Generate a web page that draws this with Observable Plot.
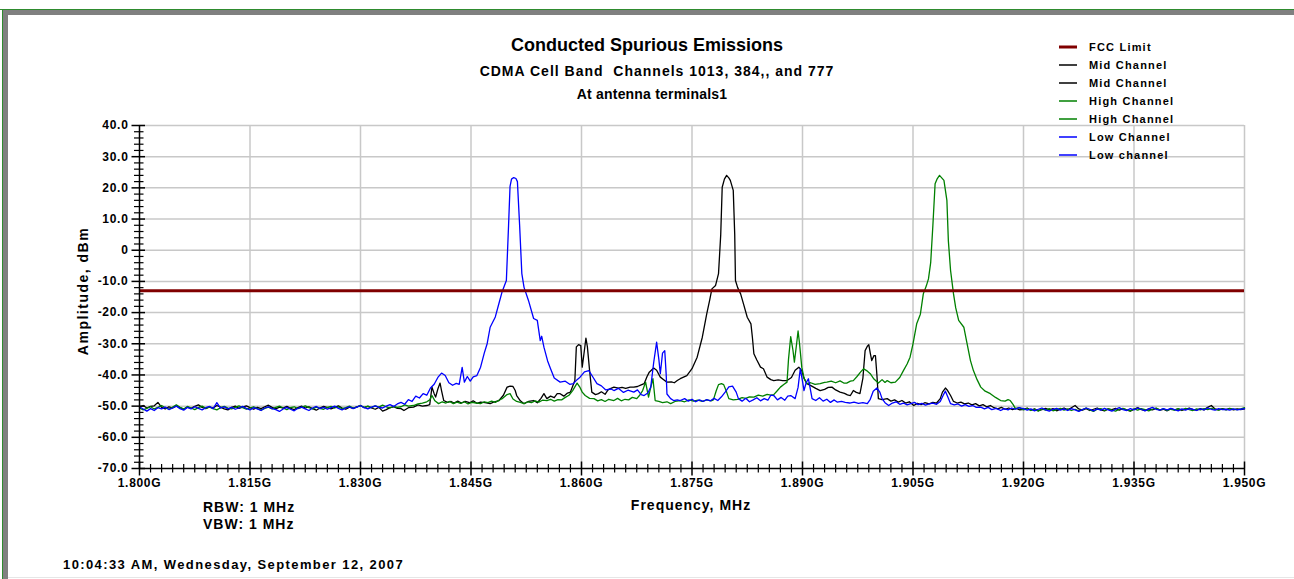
<!DOCTYPE html>
<html>
<head>
<meta charset="utf-8">
<script src="https://cdn.jsdelivr.net/npm/d3@7"></script>
<script src="https://cdn.jsdelivr.net/npm/@observablehq/plot@0.6"></script>
<style>
  html, body { margin: 0; padding: 0; background: #ffffff; }
  #page { position: relative; width: 1294px; height: 579px; overflow: hidden; background: #fff;
          font-family: "Liberation Sans", Arial, Helvetica, sans-serif; font-weight: bold; color: #000; }
  .t { position: absolute; white-space: nowrap; line-height: 1; }
  .c { transform: translate(-50%, -50%); }
  .l { transform: translate(0, -50%); }
  #chart { position: absolute; left: 0; top: 0; }
  .leg { position: absolute; left: 1059px; height: 14px; white-space: nowrap; font-size: 11px; letter-spacing: 1.2px; line-height: 14px; }
  .leg svg { position: absolute; left: 0; top: 0; }
  .leg span { position: absolute; left: 30px; top: 0; }
</style>
</head>
<body>
<div id="page">
  <div style="position:absolute;left:0;top:9px;width:1294px;height:1px;background:#2e8b2e"></div>
  <div style="position:absolute;left:2px;top:9px;width:1px;height:570px;background:#2e8b2e"></div>
  <div style="position:absolute;left:3px;top:10px;width:1291px;height:5px;background:#808080"></div>
  <div style="position:absolute;left:3px;top:10px;width:5px;height:569px;background:#808080"></div>
  <div style="position:absolute;left:8px;top:577px;width:1286px;height:1px;background:#e6e6e6"></div>
  <div id="chart"></div>
  <div id="texts"></div>
</div>
<script>
// ---------- data ----------
const title = "Conducted Spurious Emissions";
const subtitle = "CDMA Cell Band  Channels 1013, 384,, and 777";
const subtitle2 = "At antenna terminals1";
const xAxisTitle = "Frequency, MHz";
const yAxisTitle = "Amplitude, dBm";
const notes = ["RBW: 1 MHz", "VBW: 1 MHz"];
const timestamp = "10:04:33 AM, Wednesday, September 12, 2007";

const legendNames = ["FCC Limit", "Mid Channel", "Mid Channel", "High Channel", "High Channel", "Low Channel", "Low channel"];
const legendColors = ["#800000", "#000000", "#000000", "#008000", "#008000", "#0000ff", "#0000ff"];

const xTicks = [1800, 1815, 1830, 1845, 1860, 1875, 1890, 1905, 1920, 1935, 1950];
const xTickLabels = ["1.800G", "1.815G", "1.830G", "1.845G", "1.860G", "1.875G", "1.890G", "1.905G", "1.920G", "1.935G", "1.950G"];
const yTicks = [40, 30, 20, 10, 0, -10, -20, -30, -40, -50, -60, -70];
const yTickLabels = ["40.0", "30.0", "20.0", "10.0", "0", "-10.0", "-20.0", "-30.0", "-40.0", "-50.0", "-60.0", "-70.0"];

const fccLimit = -13;

// noise-floor sweep points (0.5 MHz grid) at the two ends of the span
const floorFreqLeft = d3.range(1800, 1835.01, 0.5);
const floorFreqRight = d3.range(1920, 1950.01, 0.5);

const midFloorLeft = [-50.3,-49.8,-50.6,-50.1,-49.9,-48.8,-50.4,-50.9,-50.2,-50.6,
  -49.9,-50.5,-51.0,-50.3,-50.7,-50.1,-49.6,-50.4,-50.8,-50.2,
  -50.6,-49.8,-50.3,-50.9,-51.2,-50.4,-50.0,-50.7,-50.3,-49.9,
  -50.5,-51.0,-50.4,-50.8,-50.2,-49.7,-50.4,-50.9,-50.3,-50.6,
  -50.1,-50.7,-51.1,-50.5,-50.0,-50.6,-50.2,-50.8,-51.3,-50.6,
  -50.1,-50.5,-50.9,-50.4,-49.9,-50.6,-51.0,-50.3,-50.7,-50.2,
  -49.8,-50.5,-50.1,-50.6,-51.0,-50.4,-51.6,-51.1,-50.5,-50.2,-50.7];
const highFloorLeft = [-50.6,-51.2,-50.7,-50.2,-50.9,-50.4,-49.8,-50.5,-51.0,-50.3,
  -49.6,-50.4,-50.9,-50.1,-50.6,-51.1,-50.5,-50.0,-50.7,-50.3,
  -50.8,-51.2,-50.5,-50.1,-50.6,-50.9,-50.4,-49.9,-50.5,-51.0,
  -50.6,-50.2,-50.8,-51.3,-50.7,-50.3,-50.9,-50.4,-50.0,-50.6,
  -51.1,-50.5,-50.2,-50.8,-50.4,-49.9,-50.5,-50.9,-50.3,-50.7,
  -51.0,-50.4,-50.1,-50.6,-50.2,-50.8,-50.5,-50.0,-50.6,-50.3,
  -49.8,-50.4,-50.0,-50.5,-49.9,-50.3,-49.7,-50.2,-50.6,-50.1,-50.4];
const lowFloorLeft = [-50.2,-50.9,-51.6,-50.8,-51.4,-50.5,-50.9,-50.3,-51.1,-50.6,
  -50.0,-50.8,-51.3,-50.4,-50.9,-50.2,-50.7,-51.2,-50.5,-50.1,
  -50.8,-48.9,-50.6,-50.2,-50.9,-50.4,-51.0,-50.6,-50.1,-50.7,
  -51.2,-50.5,-50.9,-51.4,-50.6,-50.2,-50.8,-51.1,-51.7,-50.9,
  -50.4,-51.0,-51.5,-50.7,-50.3,-50.9,-51.4,-50.6,-50.1,-50.8,
  -50.4,-51.0,-50.5,-50.0,-50.7,-51.2,-50.6,-50.2,-50.8,-50.3,
  -49.8,-50.5,-50.9,-50.3,-49.9,-50.4,-50.6,-50.0,-49.5,-50.1,-49.3];

const midFloorRight = [-51.0,-50.6,-51.3,-50.9,-51.4,-51.1,-50.7,-51.2,-50.8,-51.5,
  -51.0,-50.6,-51.2,-50.5,-49.8,-50.9,-51.3,-50.8,-51.4,-51.0,
  -50.6,-51.2,-51.5,-50.9,-51.1,-50.7,-51.3,-50.8,-51.2,-51.6,
  -51.0,-50.5,-51.1,-51.4,-50.9,-51.2,-50.7,-51.3,-51.0,-51.5,
  -50.8,-51.2,-50.9,-51.4,-51.0,-50.6,-51.1,-51.3,-50.8,-51.2,
  -50.4,-49.8,-50.9,-51.2,-50.8,-51.1,-50.7,-51.2,-50.9,-51.1,-50.9];
const highFloorRight = [-51.2,-50.8,-51.4,-51.0,-51.6,-50.9,-51.3,-50.8,-51.5,-51.1,
  -50.7,-51.3,-50.9,-51.4,-51.0,-51.5,-51.1,-50.6,-51.2,-51.7,
  -51.0,-50.8,-51.4,-50.9,-51.3,-51.6,-51.0,-50.7,-51.2,-51.5,
  -50.9,-51.3,-50.8,-51.1,-51.5,-51.0,-50.6,-51.2,-50.9,-51.4,
  -51.0,-51.3,-50.8,-51.2,-50.7,-51.1,-51.4,-50.9,-51.2,-50.8,
  -51.1,-50.7,-51.0,-51.3,-50.9,-51.2,-50.8,-51.0,-51.1,-50.9,-50.5];
const lowFloorRight = [-50.8,-51.3,-50.9,-51.5,-51.0,-50.6,-51.2,-51.6,-51.0,-50.7,
  -51.3,-50.9,-51.4,-50.8,-51.2,-51.7,-51.1,-50.6,-51.0,-51.5,
  -50.9,-51.3,-50.7,-51.2,-51.6,-51.0,-50.5,-51.1,-51.4,-50.8,
  -51.2,-50.6,-51.0,-51.5,-50.9,-50.4,-51.0,-51.3,-50.8,-51.2,
  -50.7,-51.1,-51.5,-50.9,-51.3,-50.8,-51.0,-51.4,-50.9,-51.2,
  -50.6,-51.0,-51.3,-50.8,-51.1,-51.0,-51.3,-50.9,-51.2,-51.0,-50.8];

// traces between the two floor segments: [MHz, dBm]
const midCore = [[1835.5,-50.8],[1835.9,-51.4],[1836.5,-50.5],[1837.2,-50.3],[1837.8,-49.6],[1838.4,-50.0],[1839,-49.8],[1839.4,-49.5],[1839.7,-43.9],[1840.0,-46],[1840.2,-47.1],[1840.5,-44.5],[1840.8,-42.6],[1841.0,-45],[1841.3,-48.2],[1841.8,-48.8],[1842.3,-48.5],[1842.7,-49.0],[1843.2,-48.4],[1843.7,-49.0],[1844.2,-48.5],[1844.8,-48.9],[1845.3,-48.3],[1845.8,-49.1],[1846.3,-48.7],[1846.9,-48.9],[1847.6,-49.2],[1848.2,-48.6],[1848.8,-48.2],[1849.4,-46.5],[1849.9,-43.9],[1850.3,-43.6],[1850.7,-43.7],[1851.0,-45.0],[1851.2,-46.6],[1851.7,-48.3],[1852.2,-49.2],[1852.8,-48.5],[1853.5,-48.2],[1854.0,-48.9],[1854.5,-47.5],[1854.9,-46.0],[1855.3,-47.6],[1855.8,-46.8],[1856.3,-47.3],[1856.7,-46.0],[1857.1,-46.0],[1857.6,-46.8],[1858.1,-45.8],[1858.5,-45.5],[1859.1,-41.8],[1859.3,-31],[1859.6,-30.3],[1859.9,-30.6],[1860.1,-37.5],[1860.4,-32],[1860.6,-28.2],[1860.8,-31],[1861.1,-38.6],[1861.4,-45.5],[1861.9,-46.3],[1862.3,-46.0],[1862.7,-45.4],[1863.2,-46.2],[1863.6,-44.8],[1864.0,-44.3],[1864.4,-43.9],[1865.0,-44.2],[1865.5,-44.0],[1866.0,-44.3],[1866.6,-43.9],[1867.1,-43.9],[1867.6,-43.7],[1868.1,-43.2],[1868.5,-42.8],[1868.9,-40.5],[1869.2,-39.1],[1869.8,-37.8],[1870.2,-38.5],[1870.7,-40.7],[1871.2,-41.6],[1871.6,-42.3],[1872.2,-42.2],[1872.6,-42.5],[1873.0,-41.8],[1873.4,-41.2],[1874.3,-40.2],[1875.0,-38.0],[1875.7,-34.3],[1876.4,-27.9],[1877.0,-20.4],[1877.4,-16],[1877.7,-12.4],[1878.2,-11.3],[1878.6,-7.5],[1878.9,5],[1879.1,20.2],[1879.4,22.8],[1879.7,24.0],[1880.0,23.2],[1880.2,22.4],[1880.6,19.2],[1880.8,5],[1880.9,-9.7],[1881.2,-12],[1881.6,-14],[1882.0,-17.3],[1882.5,-21.5],[1883.0,-23.6],[1883.2,-28],[1883.4,-33.2],[1883.8,-35.2],[1884.3,-37.5],[1884.7,-38.0],[1885.2,-40.7],[1885.7,-41.5],[1886.1,-41.8],[1886.7,-41.6],[1887.3,-41.8],[1887.9,-41.8],[1888.5,-40.8],[1889.0,-38.5],[1889.5,-37.5],[1889.9,-38.6],[1890.2,-41],[1890.6,-42.8],[1891.2,-43.5],[1891.8,-44.3],[1892.4,-45.0],[1893.0,-44.6],[1893.5,-44.0],[1894.0,-43.9],[1894.5,-44.8],[1895.1,-45.5],[1895.7,-45.9],[1896.1,-46.4],[1896.5,-46.6],[1896.9,-45.0],[1897.3,-45.6],[1897.8,-46.0],[1898.2,-41],[1898.5,-32.2],[1898.8,-30.8],[1899.0,-30.3],[1899.2,-33],[1899.4,-35.4],[1899.7,-33.8],[1899.9,-33.8],[1900.1,-40],[1900.3,-47.6],[1900.8,-47.9],[1901.5,-47.6],[1902.0,-48.4],[1902.5,-48.0],[1903.0,-48.7],[1903.5,-48.2],[1904.0,-49.0],[1904.5,-48.6],[1905.1,-49.8],[1905.6,-49.1],[1906.1,-49.5],[1906.6,-48.9],[1907.2,-49.3],[1907.7,-48.8],[1908.2,-49.0],[1908.7,-47.6],[1909.0,-45.5],[1909.4,-44.2],[1909.7,-45.0],[1910.1,-46.6],[1910.5,-48.5],[1911.0,-49.0],[1911.5,-48.7],[1912.0,-49.3],[1912.5,-49.0],[1913.0,-49.6],[1913.5,-49.2],[1914.0,-49.9],[1914.5,-49.5],[1915.0,-50.2],[1915.5,-49.8],[1916.0,-50.5],[1916.5,-50.9],[1917.0,-50.4],[1917.5,-51.0],[1918,-50.6],[1918.5,-51.1],[1919,-50.7],[1919.5,-51.2]];

const highCore = [[1835.5,-50.2],[1836,-49.6],[1836.5,-50.0],[1837.2,-49.8],[1837.8,-49.3],[1838.4,-49.0],[1839,-48.6],[1839.4,-48.0],[1839.7,-46.6],[1840.1,-48.3],[1840.6,-49.2],[1841.1,-48.6],[1841.6,-49.0],[1842.1,-48.5],[1842.6,-49.2],[1843.1,-48.7],[1843.6,-49.1],[1844.1,-48.6],[1844.6,-49.3],[1845.1,-48.8],[1845.7,-49.0],[1846.3,-49.2],[1846.8,-48.6],[1847.3,-48.9],[1847.8,-48.4],[1848.3,-48.8],[1848.8,-48.1],[1849.3,-47.5],[1849.9,-46.3],[1850.3,-46.0],[1850.7,-47.7],[1851.2,-48.5],[1851.7,-48.8],[1852.2,-49.2],[1852.7,-48.6],[1853.2,-48.9],[1853.7,-48.3],[1854.2,-48.7],[1854.7,-48.1],[1855.3,-48.2],[1855.8,-47.8],[1856.3,-48.4],[1856.8,-47.9],[1857.3,-48.0],[1857.8,-47.2],[1858.3,-46.5],[1858.8,-45.0],[1859.4,-42.6],[1859.8,-44.0],[1860.1,-45.5],[1860.5,-46.6],[1861.1,-47.5],[1861.7,-47.6],[1862.2,-48.3],[1862.7,-47.9],[1863.2,-48.5],[1863.7,-47.8],[1864.4,-48.2],[1864.9,-47.5],[1865.4,-48.3],[1865.9,-47.8],[1866.4,-48.0],[1866.9,-47.2],[1867.5,-47.6],[1867.9,-46.5],[1868.3,-45.0],[1868.7,-42.3],[1869.1,-47.1],[1869.4,-44.0],[1869.7,-41.2],[1870.0,-48.2],[1870.5,-48.5],[1871.0,-48.9],[1871.6,-48.6],[1872.1,-49.2],[1872.7,-48.5],[1873.4,-48.2],[1874.0,-48.6],[1874.6,-48.0],[1875.2,-48.4],[1875.8,-48.1],[1876.4,-48.5],[1877.0,-48.0],[1877.6,-48.3],[1877.9,-48.0],[1878.3,-45.0],[1878.6,-43.1],[1879.0,-42.8],[1879.3,-43.1],[1879.7,-45.5],[1880.0,-47.6],[1880.6,-48.0],[1881.2,-47.8],[1881.8,-47.3],[1882.3,-47.5],[1882.8,-47.0],[1883.4,-47.1],[1884.0,-46.5],[1884.6,-46.8],[1885.2,-46.2],[1885.7,-46.5],[1886.1,-46.3],[1886.6,-45.0],[1887.0,-43.9],[1887.5,-43.0],[1887.9,-42.3],[1888.1,-35],[1888.4,-27.7],[1888.7,-32],[1888.9,-35.9],[1889.2,-30],[1889.4,-25.9],[1889.6,-30],[1889.9,-37.5],[1890.2,-41],[1890.6,-42.8],[1891.1,-42.5],[1891.7,-43.0],[1892.4,-42.8],[1893.0,-42.4],[1893.3,-42.3],[1893.9,-42.0],[1894.5,-42.5],[1895.1,-41.9],[1895.6,-42.6],[1896.0,-42.6],[1896.5,-42.0],[1896.9,-41.8],[1897.4,-40.5],[1897.9,-39.0],[1898.3,-38.0],[1898.7,-38.6],[1899.2,-39.6],[1899.7,-41.3],[1900.3,-42.6],[1900.8,-41.5],[1901.2,-42.4],[1901.5,-41.8],[1902.0,-42.5],[1902.6,-42.3],[1903.2,-40.8],[1903.7,-38.6],[1904.2,-36.5],[1904.6,-34.3],[1905.0,-30],[1905.5,-23.6],[1906.0,-20.5],[1906.4,-14],[1906.8,-11.5],[1907.1,-9.2],[1907.4,-4],[1907.7,8],[1908.0,21.3],[1908.3,23.0],[1908.6,24.0],[1908.9,23.2],[1909.2,22.4],[1909.6,16],[1909.8,3],[1910.1,-6.5],[1910.5,-14],[1910.8,-18.5],[1911.2,-22.5],[1911.9,-24.7],[1912.3,-29.5],[1912.8,-35.4],[1913.2,-38.6],[1913.7,-41.5],[1914.2,-43.9],[1914.8,-45.2],[1915.5,-46.0],[1916.2,-47.2],[1916.9,-48.2],[1917.5,-48.4],[1917.9,-47.9],[1918.2,-48.2],[1918.6,-49.5],[1918.9,-50.8],[1919.4,-50.5]];

const lowCore = [[1835.5,-48.8],[1836,-49.4],[1836.5,-47.9],[1837,-48.5],[1837.5,-46.8],[1838,-47.4],[1838.5,-46.0],[1839,-46.5],[1839.5,-44.2],[1840,-43.0],[1840.5,-40.8],[1841,-39.4],[1841.5,-40.2],[1842,-42.5],[1842.5,-43.3],[1843,-42.7],[1843.4,-43.0],[1843.8,-37.6],[1844.1,-42.3],[1844.5,-40.5],[1844.9,-42.0],[1845.3,-40.6],[1845.8,-40.2],[1846.3,-37.5],[1846.8,-33.0],[1847.2,-29.9],[1847.6,-24.7],[1848.3,-21.4],[1848.8,-17.0],[1849.2,-13.5],[1849.8,-9.7],[1850.1,8],[1850.3,20.5],[1850.5,22.8],[1850.8,23.3],[1851.1,23.0],[1851.3,22.0],[1851.6,8],[1851.9,-7.5],[1852.2,-11.9],[1852.8,-16.1],[1853.5,-21.9],[1854.0,-22.5],[1854.4,-29],[1854.6,-27.6],[1854.9,-31.1],[1855.4,-35.5],[1855.8,-38.0],[1856.3,-41.0],[1857.1,-42.3],[1857.8,-42.0],[1858.4,-43.0],[1858.9,-42.8],[1859.4,-41.5],[1859.8,-40.7],[1860.4,-39.0],[1861.0,-38.6],[1861.5,-40.5],[1862.1,-42.8],[1862.7,-43.5],[1863.3,-44.8],[1864,-44.5],[1864.4,-45],[1865,-44.3],[1865.7,-45.6],[1866.3,-44.9],[1867.1,-45.5],[1867.6,-44.8],[1868.1,-46.3],[1868.5,-46.6],[1869.0,-45.8],[1869.4,-43.9],[1869.8,-36],[1870.2,-29.5],[1870.5,-35],[1870.7,-39.6],[1871.0,-33],[1871.3,-32.2],[1871.5,-40],[1871.6,-46.1],[1872.1,-47.6],[1872.5,-48.2],[1873,-48.0],[1873.4,-48.2],[1874,-47.6],[1874.5,-48.4],[1875,-47.8],[1875.5,-48.6],[1876,-48.0],[1876.5,-48.5],[1877,-47.9],[1877.5,-48.3],[1878,-47.5],[1878.5,-48.2],[1879,-47.0],[1879.5,-45.5],[1880,-43.8],[1880.5,-43.6],[1881,-45.5],[1881.3,-47.6],[1881.8,-48.4],[1882.3,-47.5],[1882.8,-48.6],[1883.3,-48.0],[1883.8,-47.3],[1884.3,-48.3],[1884.8,-47.6],[1885.3,-48.1],[1885.7,-46.5],[1886.1,-46.6],[1886.6,-48.0],[1887.1,-47.2],[1887.6,-48.1],[1888,-46.8],[1888.4,-46.6],[1889.0,-47.6],[1889.4,-44],[1889.7,-38.0],[1890.0,-42],[1890.2,-45],[1890.5,-42.5],[1890.8,-41.2],[1891.1,-45],[1891.3,-47.6],[1891.8,-48.2],[1892.3,-47.3],[1892.8,-48.4],[1893.3,-47.8],[1893.8,-48.8],[1894.3,-48.0],[1894.7,-48.7],[1895.3,-48.5],[1895.8,-48.8],[1896.4,-49.0],[1897,-48.7],[1897.6,-49.1],[1898.2,-48.9],[1898.8,-49.2],[1899.2,-47.8],[1899.6,-45.2],[1900.1,-44.2],[1900.5,-45.5],[1900.8,-47.6],[1901.2,-48.9],[1901.7,-49.8],[1902.2,-49.0],[1902.7,-48.6],[1903.2,-49.4],[1903.7,-49.0],[1904.2,-49.6],[1904.7,-49.2],[1905.2,-48.8],[1905.7,-49.5],[1906.2,-49.1],[1906.7,-49.7],[1907.2,-49.3],[1907.7,-49.0],[1908.2,-49.4],[1908.7,-48.5],[1909.1,-46.5],[1909.4,-45.2],[1909.8,-47.5],[1910.1,-49.2],[1910.6,-49.6],[1911.1,-49.3],[1911.6,-50.0],[1912.1,-49.5],[1912.6,-50.1],[1913.1,-49.8],[1913.6,-50.4],[1914.2,-50.3],[1914.7,-50.9],[1915.2,-50.4],[1915.7,-51.1],[1916.3,-50.7],[1916.9,-51.4],[1917.4,-50.8],[1917.9,-51.2],[1918.4,-50.6],[1918.9,-51.0],[1919.4,-50.5]];

// ---------- build tables ----------
function trace(name, floorL, core, floorR) {
  const rows = [];
  floorL.forEach((v, i) => { if (i < floorFreqLeft.length) rows.push({f: floorFreqLeft[i], v, s: name}); });
  core.forEach(([f, v]) => rows.push({f, v, s: name}));
  floorR.forEach((v, i) => { if (i < floorFreqRight.length) rows.push({f: floorFreqRight[i], v, s: name}); });
  return rows;
}
const midData = trace("Mid Channel", midFloorLeft, midCore, midFloorRight);
const highData = trace("High Channel", highFloorLeft, highCore, highFloorRight);
const lowData = trace("Low Channel", lowFloorLeft, lowCore, lowFloorRight);

const xMinor = d3.range(1800, 1950.01, 1.5).filter(d => !xTicks.some(t => Math.abs(t - d) < 1e-6));
const yMinor = d3.range(-70, 40.01, 2).filter(d => !yTicks.some(t => Math.abs(t - d) < 1e-6));

const grid = "#c8c8c8";

const chart = Plot.plot({
  width: 1294,
  height: 579,
  marginLeft: 139,
  marginRight: 50,
  marginTop: 125,
  marginBottom: 111,
  x: {domain: [1800, 1950], axis: null},
  y: {domain: [-70, 40], axis: null},
  style: {fontFamily: '"Liberation Sans", Arial, sans-serif', fontWeight: "bold", fontSize: "12px", background: "transparent", overflow: "visible", letterSpacing: "0.7px"},
  marks: [
    Plot.ruleY(yTicks.filter(d => d > -70), {stroke: grid, strokeWidth: 1.5}),
    Plot.ruleX(xTicks.filter(d => d > 1800), {stroke: grid, strokeWidth: 1.5}),
    Plot.line(midData, {x: "f", y: "v", stroke: "#000000", strokeWidth: 1.3}),
    Plot.line(highData, {x: "f", y: "v", stroke: "#008000", strokeWidth: 1.3}),
    Plot.line(lowData, {x: "f", y: "v", stroke: "#0000ff", strokeWidth: 1.3}),
    Plot.ruleY([fccLimit], {stroke: "#800000", strokeWidth: 3}),
    Plot.ruleX([1800], {stroke: "#000", strokeWidth: 1.5}),
    Plot.ruleY([-70], {stroke: "#000", strokeWidth: 1.5}),
    Plot.ruleY(yTicks, {x1: 1800, x2: 1800, insetLeft: -7.5, insetRight: -6, stroke: "#000", strokeWidth: 1.5}),
    Plot.ruleY(yMinor, {x1: 1800, x2: 1800, insetLeft: -5, insetRight: -4.5, stroke: "#000", strokeWidth: 1.2}),
    Plot.ruleX(xTicks, {y1: -70, y2: -70, insetTop: -6.5, insetBottom: -7.5, stroke: "#000", strokeWidth: 1.5}),
    Plot.ruleX(xMinor, {y1: -70, y2: -70, insetTop: -4, insetBottom: -4.5, stroke: "#000", strokeWidth: 1.2}),
    Plot.text(yTicks, {x: 1800, y: d => d, text: (d, i) => yTickLabels[i], dx: -11, textAnchor: "end", fill: "#000"}),
    Plot.text(xTicks, {x: d => d, y: -70, text: (d, i) => xTickLabels[i], dy: 15, fill: "#000"})
  ]
});
document.getElementById("chart").appendChild(chart);

// ---------- titles, notes, legend ----------
const texts = document.getElementById("texts");
function addText(str, css, cls) {
  const d = document.createElement("div");
  d.className = "t " + cls;
  d.textContent = str;
  d.style.cssText = css;
  texts.appendChild(d);
  return d;
}
addText(title, "left:647px;top:45px;font-size:18px;letter-spacing:0px;", "c");
addText(subtitle, "left:657px;top:71px;font-size:14px;letter-spacing:1px;white-space:pre;", "c");
addText(subtitle2, "left:652px;top:94px;font-size:14px;letter-spacing:0.2px;", "c");
addText(xAxisTitle, "left:691px;top:505px;font-size:14px;letter-spacing:1px;", "c");
addText(notes[0], "left:203px;top:507px;font-size:14px;letter-spacing:1px;", "l");
addText(notes[1], "left:203px;top:524px;font-size:14px;letter-spacing:1px;", "l");
addText(timestamp, "left:63px;top:564px;font-size:13px;letter-spacing:1.4px;", "l");
const yl = addText(yAxisTitle, "left:83px;top:291px;font-size:14px;letter-spacing:1.5px;", "");
yl.style.transform = "translate(-50%, -50%) rotate(-90deg)";

legendNames.forEach((name, i) => {
  const row = document.createElement("div");
  row.className = "leg";
  row.style.top = (46.5 + i * 18.1 - 7) + "px";
  const w = i === 0 ? 3 : 1.5;
  row.innerHTML = `<svg width="20" height="14"><line x1="0" x2="18" y1="7" y2="7" stroke="${legendColors[i]}" stroke-width="${w}"/></svg><span>${name}</span>`;
  texts.appendChild(row);
});
</script>
</body>
</html>
